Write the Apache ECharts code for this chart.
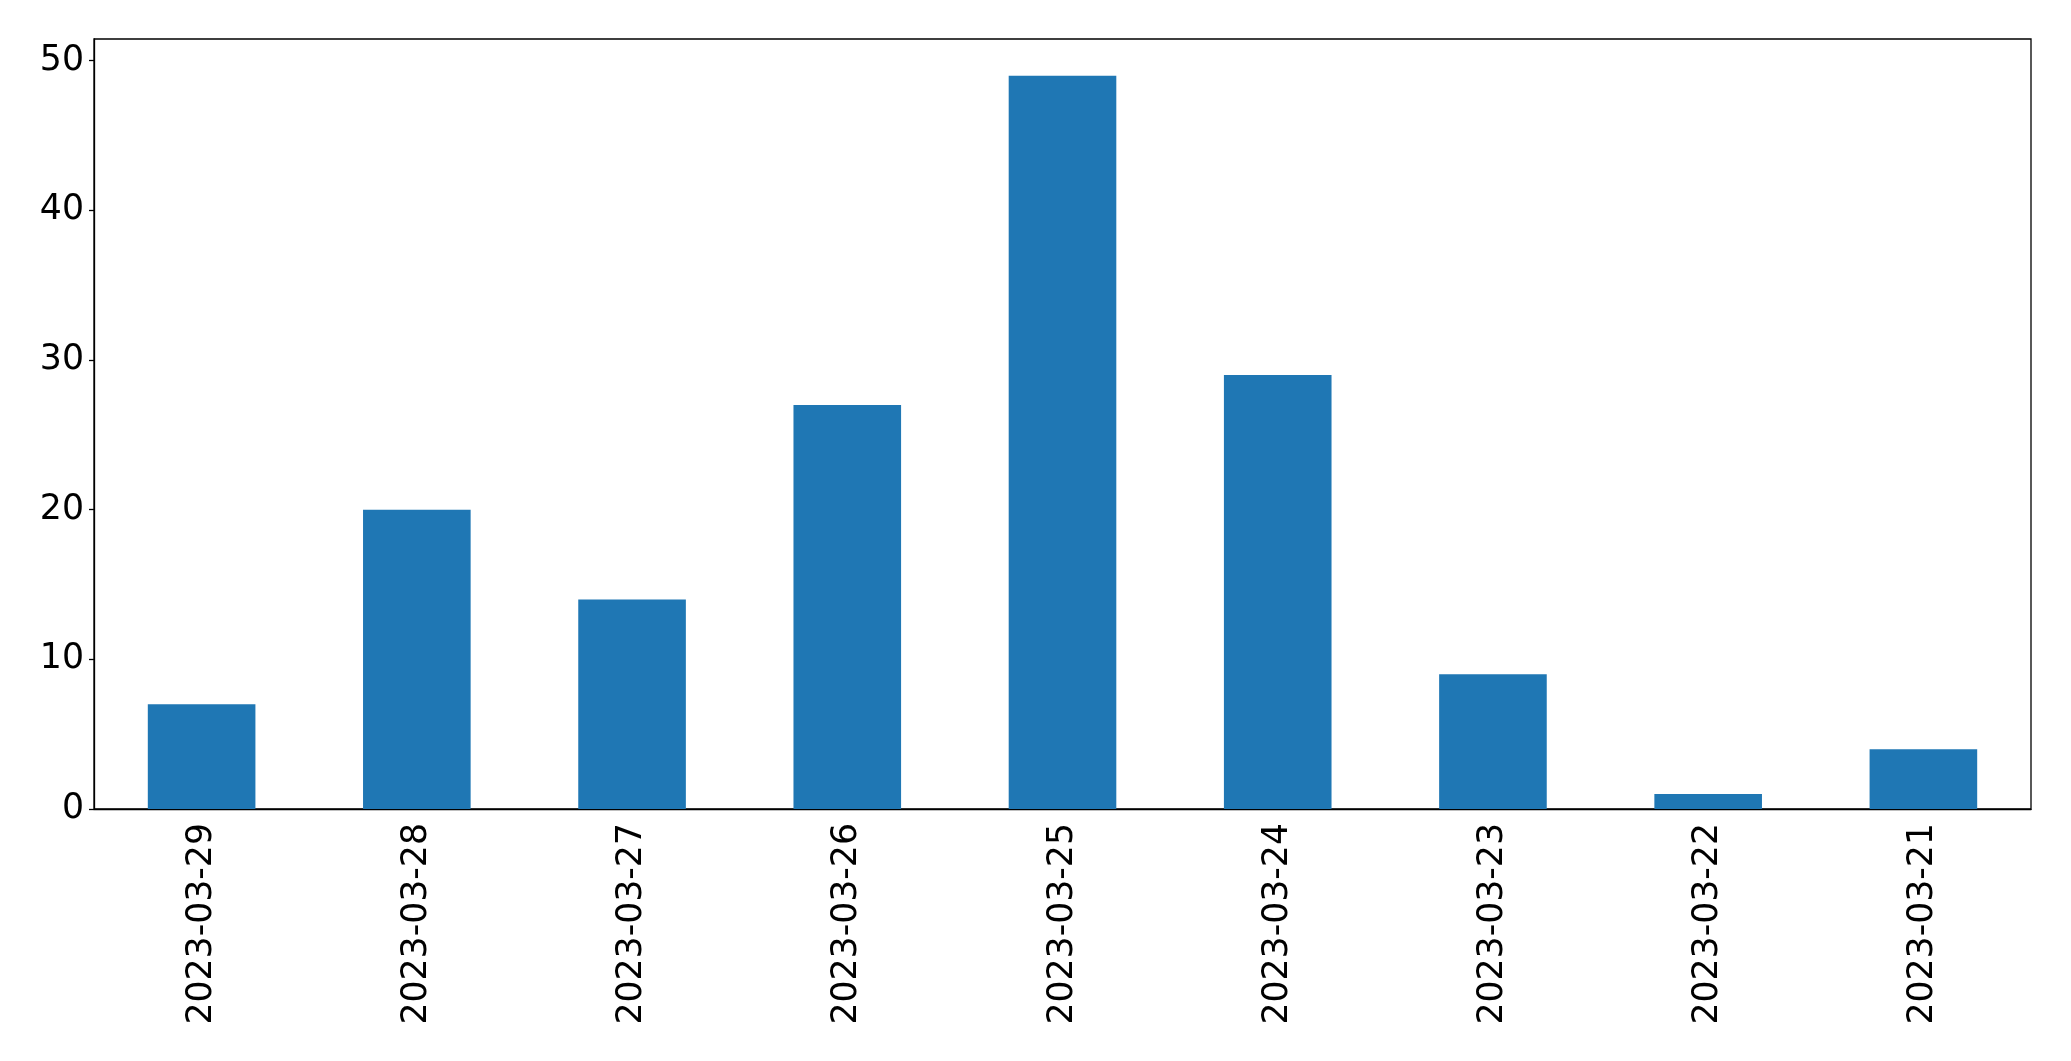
<!DOCTYPE html>
<html><head><meta charset="utf-8">
<script src="https://cdn.jsdelivr.net/npm/echarts@6/dist/echarts.min.js"></script>
<style>html,body{margin:0;padding:0;background:#fff}#c{width:2071px;height:1061px}</style>
</head><body><div id="c"></div>
<script>
const categories = ["2023-03-29","2023-03-28","2023-03-27","2023-03-26","2023-03-25","2023-03-24","2023-03-23","2023-03-22","2023-03-21"];
const values = [7, 20, 14, 27, 49, 29, 9, 1, 4];
const yMax = 51.45;
const chart = echarts.init(document.getElementById('c'), null, {renderer: 'canvas'});
const font = 'DejaVu Sans';
chart.setOption({
  animation: false,
  backgroundColor: '#fff',
  grid: {left: 94, right: 40, top: 39, bottom: 252, show: true, borderColor: '#000', borderWidth: 1.3, backgroundColor: 'transparent'},
  xAxis: {
    type: 'category', data: categories,
    axisLine: {lineStyle: {color: '#000', width: 1.3}},
    axisTick: {alignWithLabel: true, length: 5, lineStyle: {color: '#000', width: 1.3}},
    axisLabel: {rotate: 90, color: '#000', fontFamily: font, fontSize: 34.7, margin: 14, interval: 0}
  },
  yAxis: {
    type: 'value', min: 0, max: yMax, interval: 10,
    splitLine: {show: false},
    axisLine: {show: true, lineStyle: {color: '#000', width: 1.3}},
    axisTick: {show: true, length: 5, lineStyle: {color: '#000', width: 1.3}},
    axisLabel: {color: '#000', fontFamily: font, fontSize: 34.7, margin: 10, showMaxLabel: false}
  },
  series: [{type: 'bar', data: values, barWidth: '50%', itemStyle: {color: '#1f77b4'}}]
});
</script></body></html>
